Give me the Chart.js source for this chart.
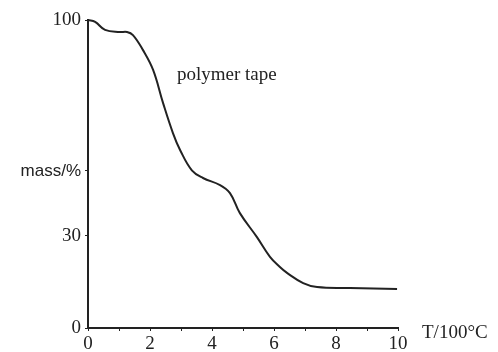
<!DOCTYPE html>
<html>
<head>
<meta charset="utf-8">
<script src="https://cdn.jsdelivr.net/npm/chart.js@4/dist/chart.umd.min.js"></script>
<style>
  html, body { margin:0; padding:0; background:#fff; }
  #wrap { width:498px; height:352px; position:relative; }
</style>
</head>
<body>
<div id="wrap"><canvas id="tgaChart"></canvas></div>
<script>
// temperature in 100 °C, mass in %
const temps = [0, 0.23, 0.55, 1.03, 1.26, 1.45, 1.77, 2.10, 2.42, 2.74, 2.97, 3.35, 3.71, 4.26, 4.58, 4.90, 5.45, 5.87, 6.19, 6.42, 6.94, 7.39, 8.45, 9.97];
const mass  = [100, 99.4, 96.8, 96.1, 96.1, 95.1, 90.3, 83.8, 73.1, 63.3, 57.8, 51.2, 48.7, 46.4, 43.8, 37.3, 29.5, 23.1, 19.8, 17.9, 14.6, 13.3, 13.0, 12.7];
const yTicks = [0, 30, 51, 100];
const yTickLabels = ['0', '30', 'mass/%', '100'];
const xTickLabels = ['0', '2', '4', '6', '8', '10'];
const seriesLabel = 'polymer tape';
const xTitle = 'T/100\u00B0C';

const serif = 'Liberation Serif';

const textPlugin = {
  id: 'texts',
  afterDraw(chart){
    const {ctx, chartArea, scales} = chart;
    ctx.save();
    ctx.fillStyle = '#222';
    ctx.font = '19px "' + serif + '"';
    ctx.textBaseline = 'middle';
    ctx.textAlign = 'left';
    ctx.fillText(seriesLabel, scales.x.getPixelForValue(2.87), scales.y.getPixelForValue(82));
    ctx.fillText(xTitle, chartArea.right + 24, chartArea.bottom + 5);
    ctx.restore();
  }
};

new Chart(document.getElementById('tgaChart'), {
  type: 'line',
  data: {
    datasets: [{
      label: seriesLabel,
      data: temps.map((t, i) => ({x: t, y: mass[i]})),
      borderColor: '#222',
      borderWidth: 2,
      pointRadius: 0,
      tension: 0.4,
      fill: false,
      clip: false
    }]
  },
  options: {
    responsive: true,
    maintainAspectRatio: false,
    animation: false,
    layout: { padding: { top: 20, right: 100, left: 0, bottom: 0 } },
    plugins: { legend: { display:false }, tooltip: { enabled:false } },
    scales: {
      x: {
        type: 'linear', min: 0, max: 10,
        afterFit(s){ s.height = 24; },
        grid: { display:true, drawOnChartArea:false, drawTicks:true, tickLength:3, color:'#222', lineWidth:1 },
        border: { display:true, color:'#222', width:2 },
        ticks: {
          stepSize: 1, autoSkip: false, maxRotation: 0, padding: 2,
          color: '#222', font: { family: serif, size: 19 },
          callback: v => (v % 2 === 0 ? xTickLabels[v / 2] : '')
        }
      },
      y: {
        min: 0, max: 100,
        afterFit(s){ s.width = 88; },
        afterBuildTicks(s){ s.ticks = yTicks.map(v => ({value: v})); },
        grid: { display:true, drawOnChartArea:false, drawTicks:true, tickLength:3, color:'#222', lineWidth:1 },
        border: { display:true, color:'#222', width:2 },
        ticks: {
          padding: 4, color: '#222',
          font: ctx => ({ family: ctx.tick && ctx.tick.value === 51 ? 'Liberation Sans' : serif, size: ctx.tick && ctx.tick.value === 51 ? 17 : 19 }),
          callback: v => yTickLabels[yTicks.indexOf(v)]
        }
      }
    }
  },
  plugins: [textPlugin]
});
</script>
</body>
</html>
